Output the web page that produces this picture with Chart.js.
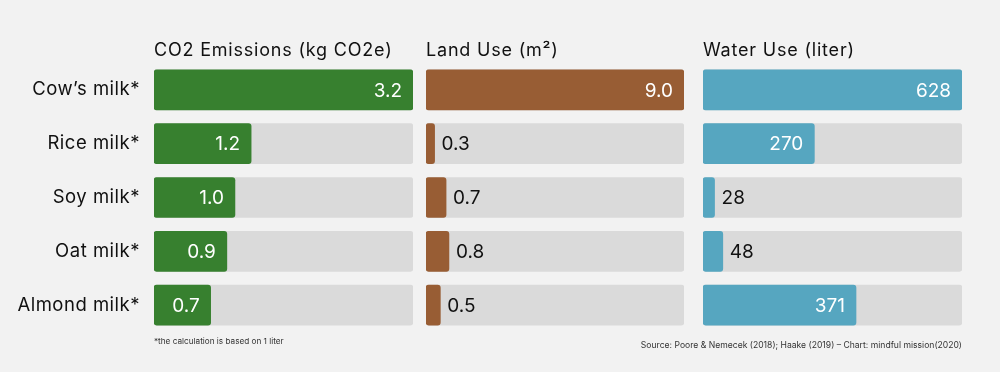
<!DOCTYPE html>
<html><head><meta charset="utf-8">
<script src="https://cdn.jsdelivr.net/npm/chart.js@4"></script>
<style>
html,body{margin:0;padding:0;background:#f2f2f2;width:1000px;height:372px;overflow:hidden;font-family:Inter, "Noto Sans", sans-serif;}
canvas{position:absolute;top:0;}
.t{position:absolute;top:40px;font-size:18px;letter-spacing:0.8px;line-height:20px;color:#111;white-space:nowrap;}
.n{position:absolute;white-space:nowrap;color:#333;}
</style></head><body>
<canvas id="c1" width="420" height="372" style="left:0px"></canvas>
<canvas id="c2" width="265" height="372" style="left:426px"></canvas>
<canvas id="c3" width="266" height="372" style="left:703px"></canvas>
<div class="t" style="left:154px">CO2 Emissions (kg CO2e)</div>
<div class="t" style="left:426px">Land Use (m²)</div>
<div class="t" style="left:703px">Water Use (liter)</div>
<div class="n" style="left:154px;top:336px;font-size:8.2px;">*the calculation is based on 1 liter</div>
<div class="n" style="right:38px;top:340px;font-size:8.6px;">Source: Poore &amp; Nemecek (2018); Haake (2019) – Chart: mindful mission(2020)</div>
<script>
const categories = ["Cow’s milk*", "Rice milk*", "Soy milk*", "Oat milk*", "Almond milk*"];
const co2Values = [3.2, 1.2, 1.0, 0.9, 0.7];
const landValues = [9.0, 0.3, 0.7, 0.8, 0.5];
const waterValues = [628, 270, 28, 48, 371];
const co2Labels = ["3.2", "1.2", "1.0", "0.9", "0.7"];
const landLabels = ["9.0", "0.3", "0.7", "0.8", "0.5"];
const waterLabels = ["628", "270", "28", "48", "371"];

const FONT = 'Inter, "Noto Sans", sans-serif';

const spacingPlugin = {
  id: 'spacing',
  beforeDraw(chart) { chart.ctx.letterSpacing = '0.5px'; }
};

const valueLabelPlugin = {
  id: 'valueLabels',
  afterDatasetsDraw(chart) {
    const ctx = chart.ctx;
    const meta = chart.getDatasetMeta(0);
    const labels = chart.options.plugins.valueLabels.labels;
    ctx.save();
    ctx.letterSpacing = '0px';
    ctx.font = '19px ' + FONT;
    ctx.textBaseline = 'middle';
    meta.data.forEach((bar, i) => {
      const txt = labels[i];
      const w = ctx.measureText(txt).width;
      const barW = bar.x - bar.base;
      if (barW > w + 20) {
        ctx.fillStyle = '#ffffff';
        ctx.textAlign = 'right';
        ctx.fillText(txt, bar.x - 11, bar.y + 1);
      } else {
        ctx.fillStyle = '#111111';
        ctx.textAlign = 'left';
        ctx.fillText(txt, bar.x + 7, bar.y + 1);
      }
    });
    ctx.restore();
  }
};

function makeChart(id, values, labels, color, showY) {
  const maxV = Math.max(...values);
  const track = values.map(() => maxV);
  const yScale = {
    display: showY,
    grid: {display: false, drawTicks: false},
    border: {display: false},
    ticks: {color: '#111', font: {size: 18.5, family: FONT}, padding: 14}
  };
  if (showY) yScale.afterFit = (scale) => { scale.width = 154; };
  return new Chart(document.getElementById(id), {
    type: 'bar',
    data: {
      labels: categories,
      datasets: [
        {data: values, backgroundColor: color, barThickness: 40, borderRadius: 3, borderSkipped: false, grouped: false},
        {data: track, backgroundColor: '#dadada', barThickness: 40, borderRadius: 3, borderSkipped: false, grouped: false}
      ]
    },
    options: {
      indexAxis: 'y',
      responsive: false,
      animation: false,
      events: [],
      layout: {padding: {top: 63, bottom: 40, left: 0, right: 7}},
      plugins: {legend: {display: false}, tooltip: {enabled: false}, valueLabels: {labels}},
      scales: {
        x: {display: false, min: 0, max: maxV},
        y: yScale
      }
    },
    plugins: [spacingPlugin, valueLabelPlugin]
  });
}

makeChart('c1', co2Values, co2Labels, '#37802f', true);
makeChart('c2', landValues, landLabels, '#985d34', false);
makeChart('c3', waterValues, waterLabels, '#56a6c0', false);
</script>
</body></html>
